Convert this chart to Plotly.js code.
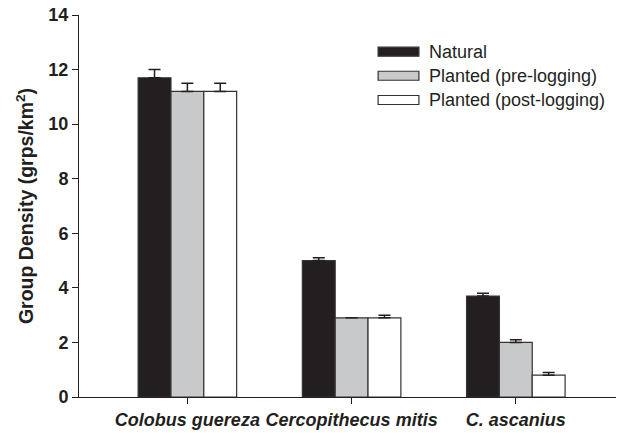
<!DOCTYPE html>
<html><head><meta charset="utf-8">
<script src="https://cdn.plot.ly/plotly-3.0.1.min.js"></script>
<style>html,body{margin:0;padding:0;background:#fff}#chart{width:627px;height:433px}</style>
</head><body><div id="chart"></div>
<script>
const categories = ["Colobus guereza", "Cercopithecus mitis", "C. ascanius"];
const seriesNames = ["Natural", "Planted (pre-logging)", "Planted (post-logging)"];
const natural = [11.7, 5.0, 3.7];
const naturalErr = [0.3, 0.1, 0.1];
const preLogging = [11.2, 2.9, 2.0];
const preLoggingErr = [0.3, 0.0, 0.1];
const postLogging = [11.2, 2.9, 0.8];
const postLoggingErr = [0.3, 0.1, 0.1];
const yTicks = [0, 2, 4, 6, 8, 10, 12, 14];

const colors = ["#231f20", "#c8c9cb", "#ffffff"];
const vals = [natural, preLogging, postLogging];
const errs = [naturalErr, preLoggingErr, postLoggingErr];
const xIdx = categories.map((c, i) => i);
const ink = "#231f20";

const traces = vals.map((v, k) => ({
  type: "bar",
  name: seriesNames[k],
  x: xIdx,
  y: v,
  showlegend: false,
  marker: {color: colors[k], line: {color: "#333333", width: 1.2}},
  error_y: {type: "data", array: errs[k], symmetric: false, arrayminus: errs[k].map(() => 0),
            color: ink, thickness: 1.5, width: 6, visible: true}
}));

// legend drawn as wide swatches like the reference
const legX0 = 0.557, legX1 = 0.633, legTextX = 0.648;
const legRowY = [0.904, 0.841, 0.7775];
const swatchHalf = 0.0118;
const shapes = seriesNames.map((n, k) => ({
  type: "rect", xref: "paper", yref: "paper",
  x0: legX0, x1: legX1, y0: legRowY[k] - swatchHalf, y1: legRowY[k] + swatchHalf,
  fillcolor: colors[k], line: {color: "#333333", width: 1.2}
}));
const annotations = seriesNames.map((n, k) => ({
  xref: "paper", yref: "paper", x: legTextX, y: legRowY[k],
  xanchor: "left", yanchor: "middle", showarrow: false,
  text: n, font: {size: 18, color: ink}
}));

const layout = {
  width: 627, height: 433,
  margin: {l: 79, r: 11, t: 15, b: 36},
  paper_bgcolor: "#fff", plot_bgcolor: "#fff",
  barmode: "group", bargap: 0.4, bargroupgap: 0,
  font: {family: "Liberation Sans, Arial, sans-serif", color: ink},
  showlegend: false,
  shapes: shapes,
  annotations: annotations,
  xaxis: {
    range: [-0.66, 2.61],
    tickvals: xIdx,
    ticktext: categories.map(c => "<b><i>" + c + "</i></b>"),
    tickfont: {size: 18},
    ticks: "outside", ticklen: 6, tickcolor: ink,
    showline: true, linecolor: ink, linewidth: 1,
    showgrid: false, zeroline: false, fixedrange: true
  },
  yaxis: {
    range: [0, 14],
    tickvals: yTicks,
    ticktext: yTicks.map(t => "<b>" + t + "</b>"),
    tickfont: {size: 18},
    ticks: "outside", ticklen: 6, tickcolor: ink,
    showline: true, linecolor: ink, linewidth: 1,
    showgrid: false, zeroline: false,
    title: {text: "<b>Group Density (grps/km<sup>2</sup>)</b>", font: {size: 19.5}, standoff: 9}
  }
};
Plotly.newPlot("chart", traces, layout, {displayModeBar: false, staticPlot: true});
</script></body></html>
